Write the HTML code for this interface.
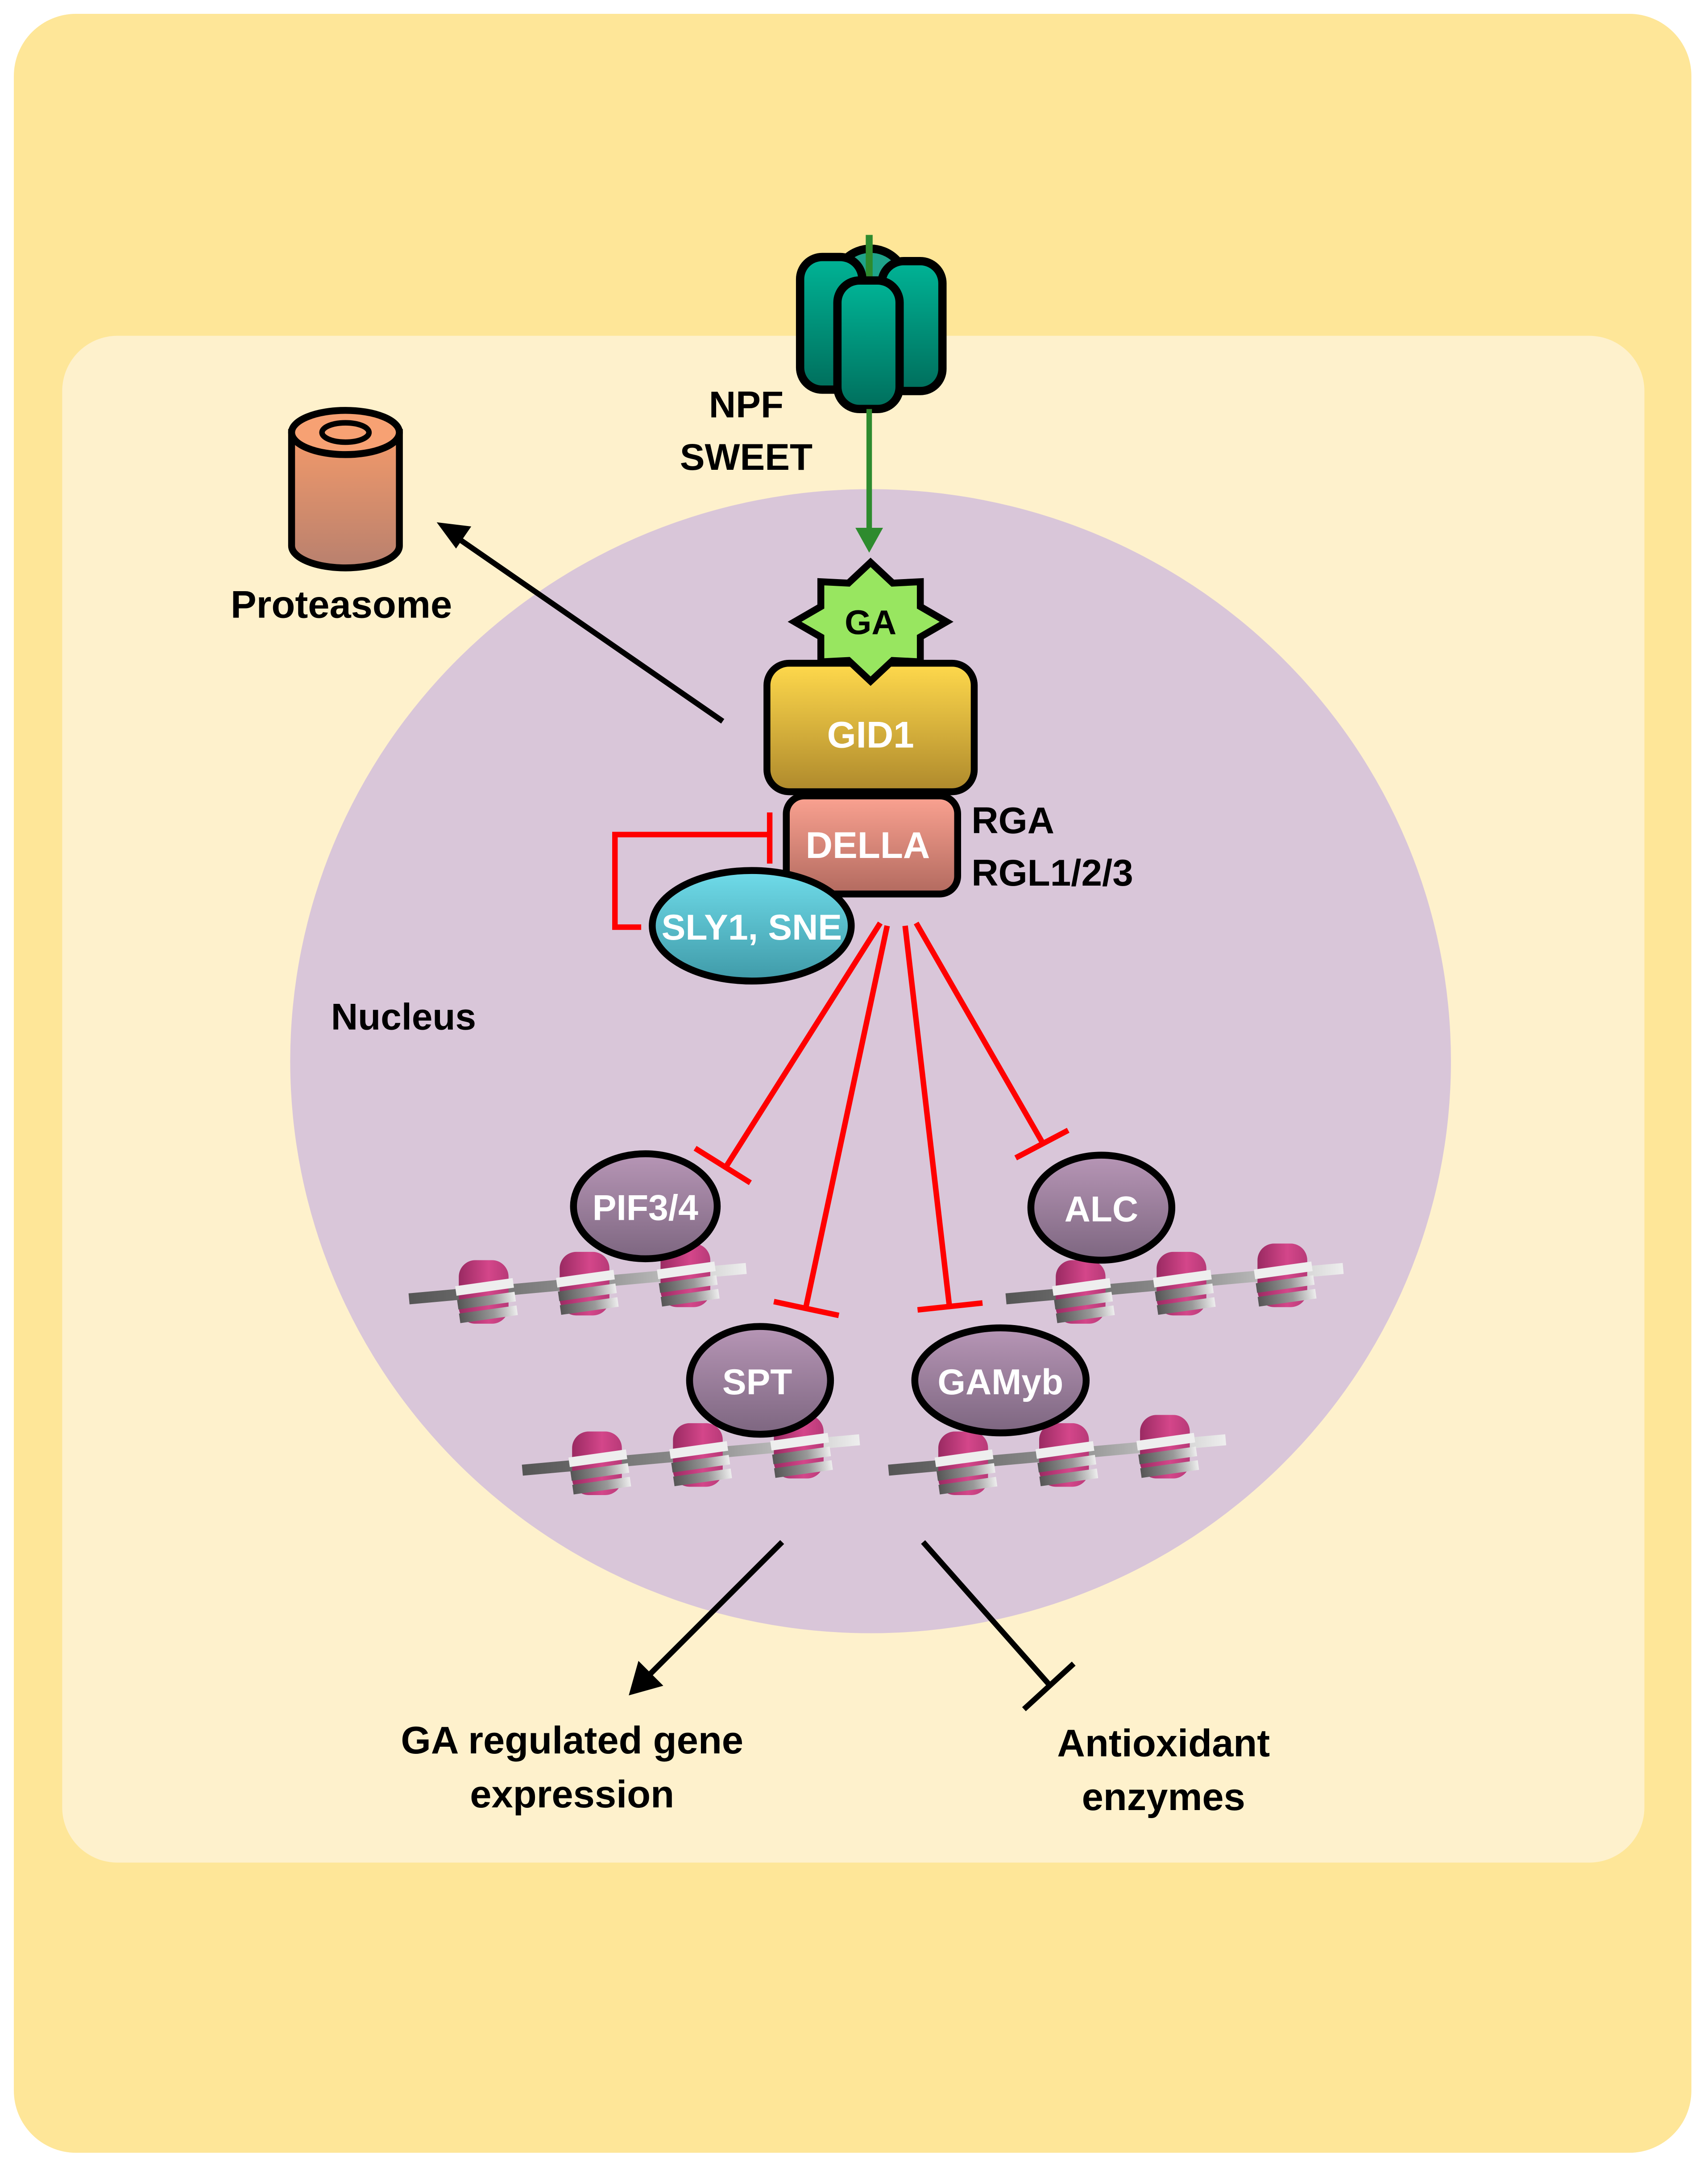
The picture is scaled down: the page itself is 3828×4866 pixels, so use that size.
<!DOCTYPE html>
<html><head><meta charset="utf-8"><style>
html,body{margin:0;padding:0;background:#fff}
svg{display:block}
text{font-family:"Liberation Sans",sans-serif;font-weight:bold}
</style></head><body>
<svg width="3828" height="4866" viewBox="0 0 1236 1571.2" xmlns="http://www.w3.org/2000/svg">
<defs>
<linearGradient id="teal" x1="0" y1="0" x2="0" y2="1"><stop offset="0" stop-color="#00B496"/><stop offset="1" stop-color="#006E5C"/></linearGradient>
<linearGradient id="gold" x1="0" y1="0" x2="0" y2="1"><stop offset="0" stop-color="#FFD94C"/><stop offset="1" stop-color="#AE892C"/></linearGradient>
<linearGradient id="pink" x1="0" y1="0" x2="0" y2="1"><stop offset="0" stop-color="#FBA291"/><stop offset="1" stop-color="#B26A5F"/></linearGradient>
<linearGradient id="cyan" x1="0" y1="0" x2="0" y2="1"><stop offset="0" stop-color="#70DCEA"/><stop offset="1" stop-color="#3F9AA8"/></linearGradient>
<linearGradient id="purp" x1="0" y1="0" x2="0" y2="1"><stop offset="0" stop-color="#B796B6"/><stop offset="1" stop-color="#7D6680"/></linearGradient>
<linearGradient id="orange" x1="0" y1="0" x2="0" y2="1"><stop offset="0" stop-color="#F39A6A"/><stop offset="1" stop-color="#B8806E"/></linearGradient>
<linearGradient id="nuc" x1="0" y1="0" x2="1" y2="0"><stop offset="0" stop-color="#9A2A62"/><stop offset="0.6" stop-color="#D4468A"/><stop offset="1" stop-color="#B83A78"/></linearGradient>
<linearGradient id="dna" x1="0" y1="0" x2="1" y2="0"><stop offset="0" stop-color="#555"/><stop offset="0.6" stop-color="#999"/><stop offset="1" stop-color="#eee"/></linearGradient>
<g id="ns">
<rect x="-18" y="-22" width="36" height="46" rx="12" fill="url(#nuc)"/>
<rect x="-20" y="-6" width="42" height="7" fill="#eee" transform="rotate(-8)"/>
<rect x="-20" y="4" width="42" height="7" fill="url(#dna)" transform="rotate(-8)"/>
<rect x="-20" y="14" width="42" height="7" fill="url(#dna)" transform="rotate(-8)"/>
</g>
<g id="row">
<line x1="0" y1="0" x2="244" y2="-22" stroke="url(#dna)" stroke-width="8"/>
<use href="#ns" x="54" y="-6"/><use href="#ns" x="127" y="-12"/><use href="#ns" x="200" y="-18"/>
</g>
</defs>
<rect x="0" y="0" width="1236" height="1571.2" fill="#fff"/>
<rect x="10" y="10" width="1214" height="1548" rx="45" fill="#FEE698"/>
<rect x="45" y="243" width="1145" height="1105" rx="40" fill="#FEF1CC"/>
<ellipse cx="630" cy="768" rx="420" ry="414" fill="#D9C6D9"/>

<g stroke="#000" stroke-width="6">
<rect x="604" y="180" width="52" height="60" rx="26" fill="#1FA38A"/>
<line x1="629" y1="170" x2="629" y2="220" stroke="#2E8B2E" stroke-width="5"/>
<rect x="579" y="186" width="45" height="96" rx="16" fill="url(#teal)"/>
<rect x="638" y="189" width="44" height="94" rx="16" fill="url(#teal)"/>
<rect x="606" y="203" width="45" height="93" rx="16" fill="url(#teal)"/>
</g>
<line x1="629" y1="296" x2="629" y2="385" stroke="#2E8B2E" stroke-width="4"/>
<polygon points="619,382 639,382 629,400" fill="#2E8B2E"/>
<text x="540" y="302" font-size="27" text-anchor="middle">NPF</text>
<text x="540" y="340" font-size="27" text-anchor="middle">SWEET</text>

<path d="M211,313 L211,395 A39,16 0 0 0 289,395 L289,313 Z" fill="url(#orange)" stroke="#000" stroke-width="5"/>
<ellipse cx="250" cy="313" rx="39" ry="16" fill="#F7A173" stroke="#000" stroke-width="5"/>
<ellipse cx="250" cy="313" rx="17" ry="7" fill="#F7A173" stroke="#000" stroke-width="4"/>
<text x="247" y="447" font-size="28" text-anchor="middle">Proteasome</text>
<line x1="523" y1="522" x2="332" y2="390" stroke="#000" stroke-width="4"/>
<polygon points="316,378 341,381 330,397" fill="#000"/>

<rect x="555" y="480" width="150" height="93" rx="16" fill="url(#gold)" stroke="#000" stroke-width="5"/>
<polygon points="630,407 646,422 666,421 666,439 685,450 666,461 666,479 646,478 630,493 614,478 594,479 594,461 575,450 594,439 594,421 614,422" fill="#98E660" stroke="#000" stroke-width="5" stroke-linejoin="miter"/>
<text x="630" y="459" font-size="25" text-anchor="middle">GA</text>
<text x="630" y="541" font-size="27" text-anchor="middle" fill="#fff">GID1</text>

<rect x="569" y="576" width="124" height="71" rx="13" fill="url(#pink)" stroke="#000" stroke-width="5"/>
<text x="628" y="621" font-size="27" text-anchor="middle" fill="#fff">DELLA</text>
<text x="703" y="603" font-size="27">RGA</text>
<text x="703" y="641" font-size="27">RGL1/2/3</text>

<ellipse cx="544" cy="670" rx="72" ry="40" fill="url(#cyan)" stroke="#000" stroke-width="5"/>
<text x="544" y="680" font-size="26" text-anchor="middle" fill="#fff">SLY1, SNE</text>
<polyline points="464,671 445,671 445,604 557,604" fill="none" stroke="#f00" stroke-width="4"/>
<line x1="557" y1="588" x2="557" y2="625" stroke="#f00" stroke-width="4"/>

<text x="292" y="745" font-size="27" text-anchor="middle">Nucleus</text>

<g stroke="#f00" stroke-width="4" fill="none">
<line x1="637" y1="668" x2="525" y2="845"/><line x1="503" y1="831" x2="543" y2="856"/>
<line x1="642" y1="670" x2="583" y2="947"/><line x1="560" y1="942" x2="607" y2="952"/>
<line x1="655" y1="670" x2="687" y2="945"/><line x1="664" y1="948" x2="711" y2="943"/>
<line x1="663" y1="668" x2="755" y2="828"/><line x1="735" y1="838" x2="773" y2="818"/>
</g>

<use href="#row" x="296" y="940"/>
<use href="#row" x="728" y="940"/>
<use href="#row" x="378" y="1064"/>
<use href="#row" x="643" y="1064"/>

<g stroke="#000" stroke-width="5" fill="url(#purp)">
<ellipse cx="467" cy="873" rx="52" ry="38"/>
<ellipse cx="797" cy="874" rx="51" ry="38"/>
<ellipse cx="550" cy="999" rx="51" ry="39"/>
<ellipse cx="724" cy="999" rx="62" ry="38"/>
</g>
<g fill="#fff" font-size="26" text-anchor="middle">
<text x="467" y="883">PIF3/4</text>
<text x="797" y="884">ALC</text>
<text x="548" y="1009">SPT</text>
<text x="724" y="1009">GAMyb</text>
</g>

<line x1="566" y1="1116" x2="468" y2="1214" stroke="#000" stroke-width="4"/>
<polygon points="455,1227 462,1202 480,1220" fill="#000"/>
<line x1="668" y1="1116" x2="760" y2="1220" stroke="#000" stroke-width="4"/>
<line x1="741" y1="1237" x2="777" y2="1204" stroke="#000" stroke-width="4"/>
<g font-size="28" text-anchor="middle">
<text x="414" y="1269">GA regulated gene</text>
<text x="414" y="1308">expression</text>
<text x="842" y="1271">Antioxidant</text>
<text x="842" y="1310">enzymes</text>
</g>
</svg>
</body></html>
